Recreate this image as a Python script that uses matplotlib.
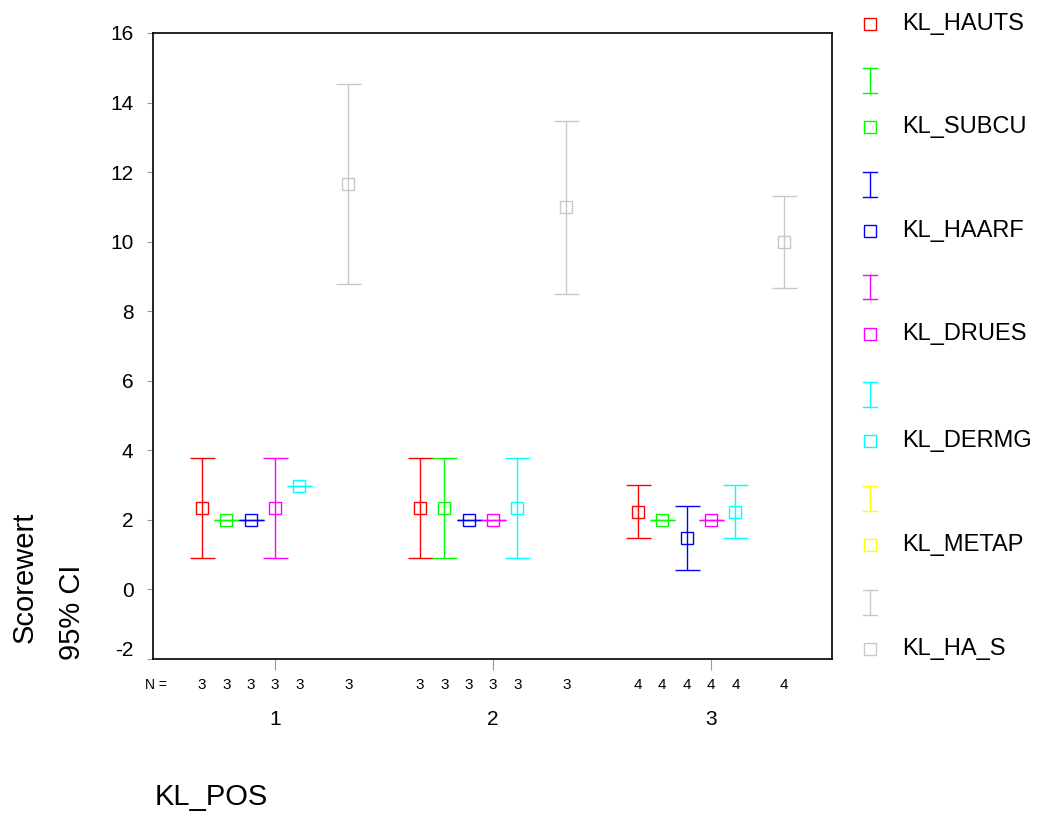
import matplotlib
matplotlib.use("Agg")
import matplotlib.pyplot as plt
from matplotlib.lines import Line2D
from matplotlib.transforms import offset_copy

plt.rcParams['font.family'] = ['Liberation Sans', 'DejaVu Sans']

# ----- Data -----
series = ["KL_HAUTS", "KL_SUBCU", "KL_HAARF", "KL_DRUES", "KL_DERMG", "KL_METAP", "KL_HA_S"]
colors = ["#ff0000", "#00ff00", "#0000ff", "#ff00ff", "#00ffff", "#ffff00", "#c8c8c8"]
groups = [1, 2, 3]

# mean / lower / upper per series, one value per KL_POS group (None = no data)
mean = [
    [2.33, 2.33, 2.22],
    [2.00, 2.33, 2.00],
    [2.00, 2.00, 1.48],
    [2.33, 2.00, 2.00],
    [2.97, 2.33, 2.22],
    [None, None, None],
    [11.67, 11.00, 9.98],
]
lower = [
    [0.90, 0.90, 1.47],
    [2.00, 0.90, 2.00],
    [2.00, 2.00, 0.57],
    [0.90, 2.00, 2.00],
    [2.97, 0.90, 1.47],
    [None, None, None],
    [8.78, 8.50, 8.66],
]
upper = [
    [3.77, 3.77, 3.00],
    [2.00, 3.77, 2.00],
    [2.00, 2.00, 2.40],
    [3.77, 2.00, 2.00],
    [2.97, 3.77, 3.00],
    [None, None, None],
    [14.52, 13.48, 11.31],
]
n_counts = [3, 3, 4]

# ----- Figure -----
fig = plt.figure(figsize=(10.4, 8.16), dpi=100)
ax = fig.add_axes([153 / 1040, 1 - 659 / 816, (832 - 153) / 1040, (659 - 33) / 816])

slot = 0.112
for i, name in enumerate(series):
    off = (i - 3) * slot
    for j, g in enumerate(groups):
        m = mean[i][j]
        if m is None:
            continue
        x = g + off
        ax.errorbar([x], [m], yerr=[[m - lower[i][j]], [upper[i][j] - m]],
                    fmt='none', ecolor=colors[i], elinewidth=1.0,
                    capsize=9, capthick=1.0)
        ax.plot([x], [m], 's', ms=8, mfc='none', mec=colors[i], mew=1.0)
        ax.text(x, -0.042, str(n_counts[j]), transform=ax.get_xaxis_transform(),
                ha='center', va='center', fontsize=11)

ax.text(0.455, -0.042, "N =", transform=ax.get_xaxis_transform(),
        ha='center', va='center', fontsize=10)

ax.set_xlim(0.44, 3.555)
ax.set_ylim(-2, 16)
ax.set_yticks(range(-2, 17, 2))
ax.set_yticklabels([str(v) for v in range(-2, 17, 2)], fontsize=15)
ax.set_xticks(groups)
ax.set_xticklabels([str(g) for g in groups], fontsize=15)
ax.tick_params(axis='y', length=4, width=0.8, color='#999999', pad=10)
ax.tick_params(axis='x', length=8, width=0.8, color='#999999', pad=29)

# shift the -2 label up a bit, as in the original
lab = ax.get_yticklabels()[0]
lab.set_transform(offset_copy(lab.get_transform(), fig=fig, x=0, y=10, units='dots'))

for s in ax.spines.values():
    s.set_linewidth(1.2)

# Axis titles
fig.text(25 / 1040, 1 - 643 / 816, "Scorewert", rotation=90, ha='center', va='bottom', fontsize=21)
fig.text(72 / 1040, 1 - 660 / 816, "95% CI", rotation=90, ha='center', va='bottom', fontsize=21)
fig.text(155 / 1040, 1 - 797 / 816, "KL_POS", ha='left', va='center', fontsize=21)

# ----- Legend (SPSS style: square + name, then error bar of next series) -----
lx = 870 / 1040
tx = 902 / 1040
sq_y = [24, 127, 231, 334, 441, 545, 649]
for i, name in enumerate(series):
    y = 1 - sq_y[i] / 816
    fig.add_artist(Line2D([lx], [y], marker='s', ms=8, mfc='none', mec=colors[i],
                          mew=1.0, transform=fig.transFigure))
    fig.text(tx, y, name, ha='left', va='center', fontsize=17)
    if i > 0:
        yc = sq_y[i] - 47
        y0 = 1 - (yc - 12.5) / 816
        y1 = 1 - (yc + 12.5) / 816
        w = 7 / 1040
        for xs, ys in [([lx, lx], [y0, y1]), ([lx - w, lx + w], [y0, y0]), ([lx - w, lx + w], [y1, y1])]:
            fig.add_artist(Line2D(xs, ys, color=colors[i], lw=1.0, transform=fig.transFigure))

plt.savefig("out.png", dpi=100)
